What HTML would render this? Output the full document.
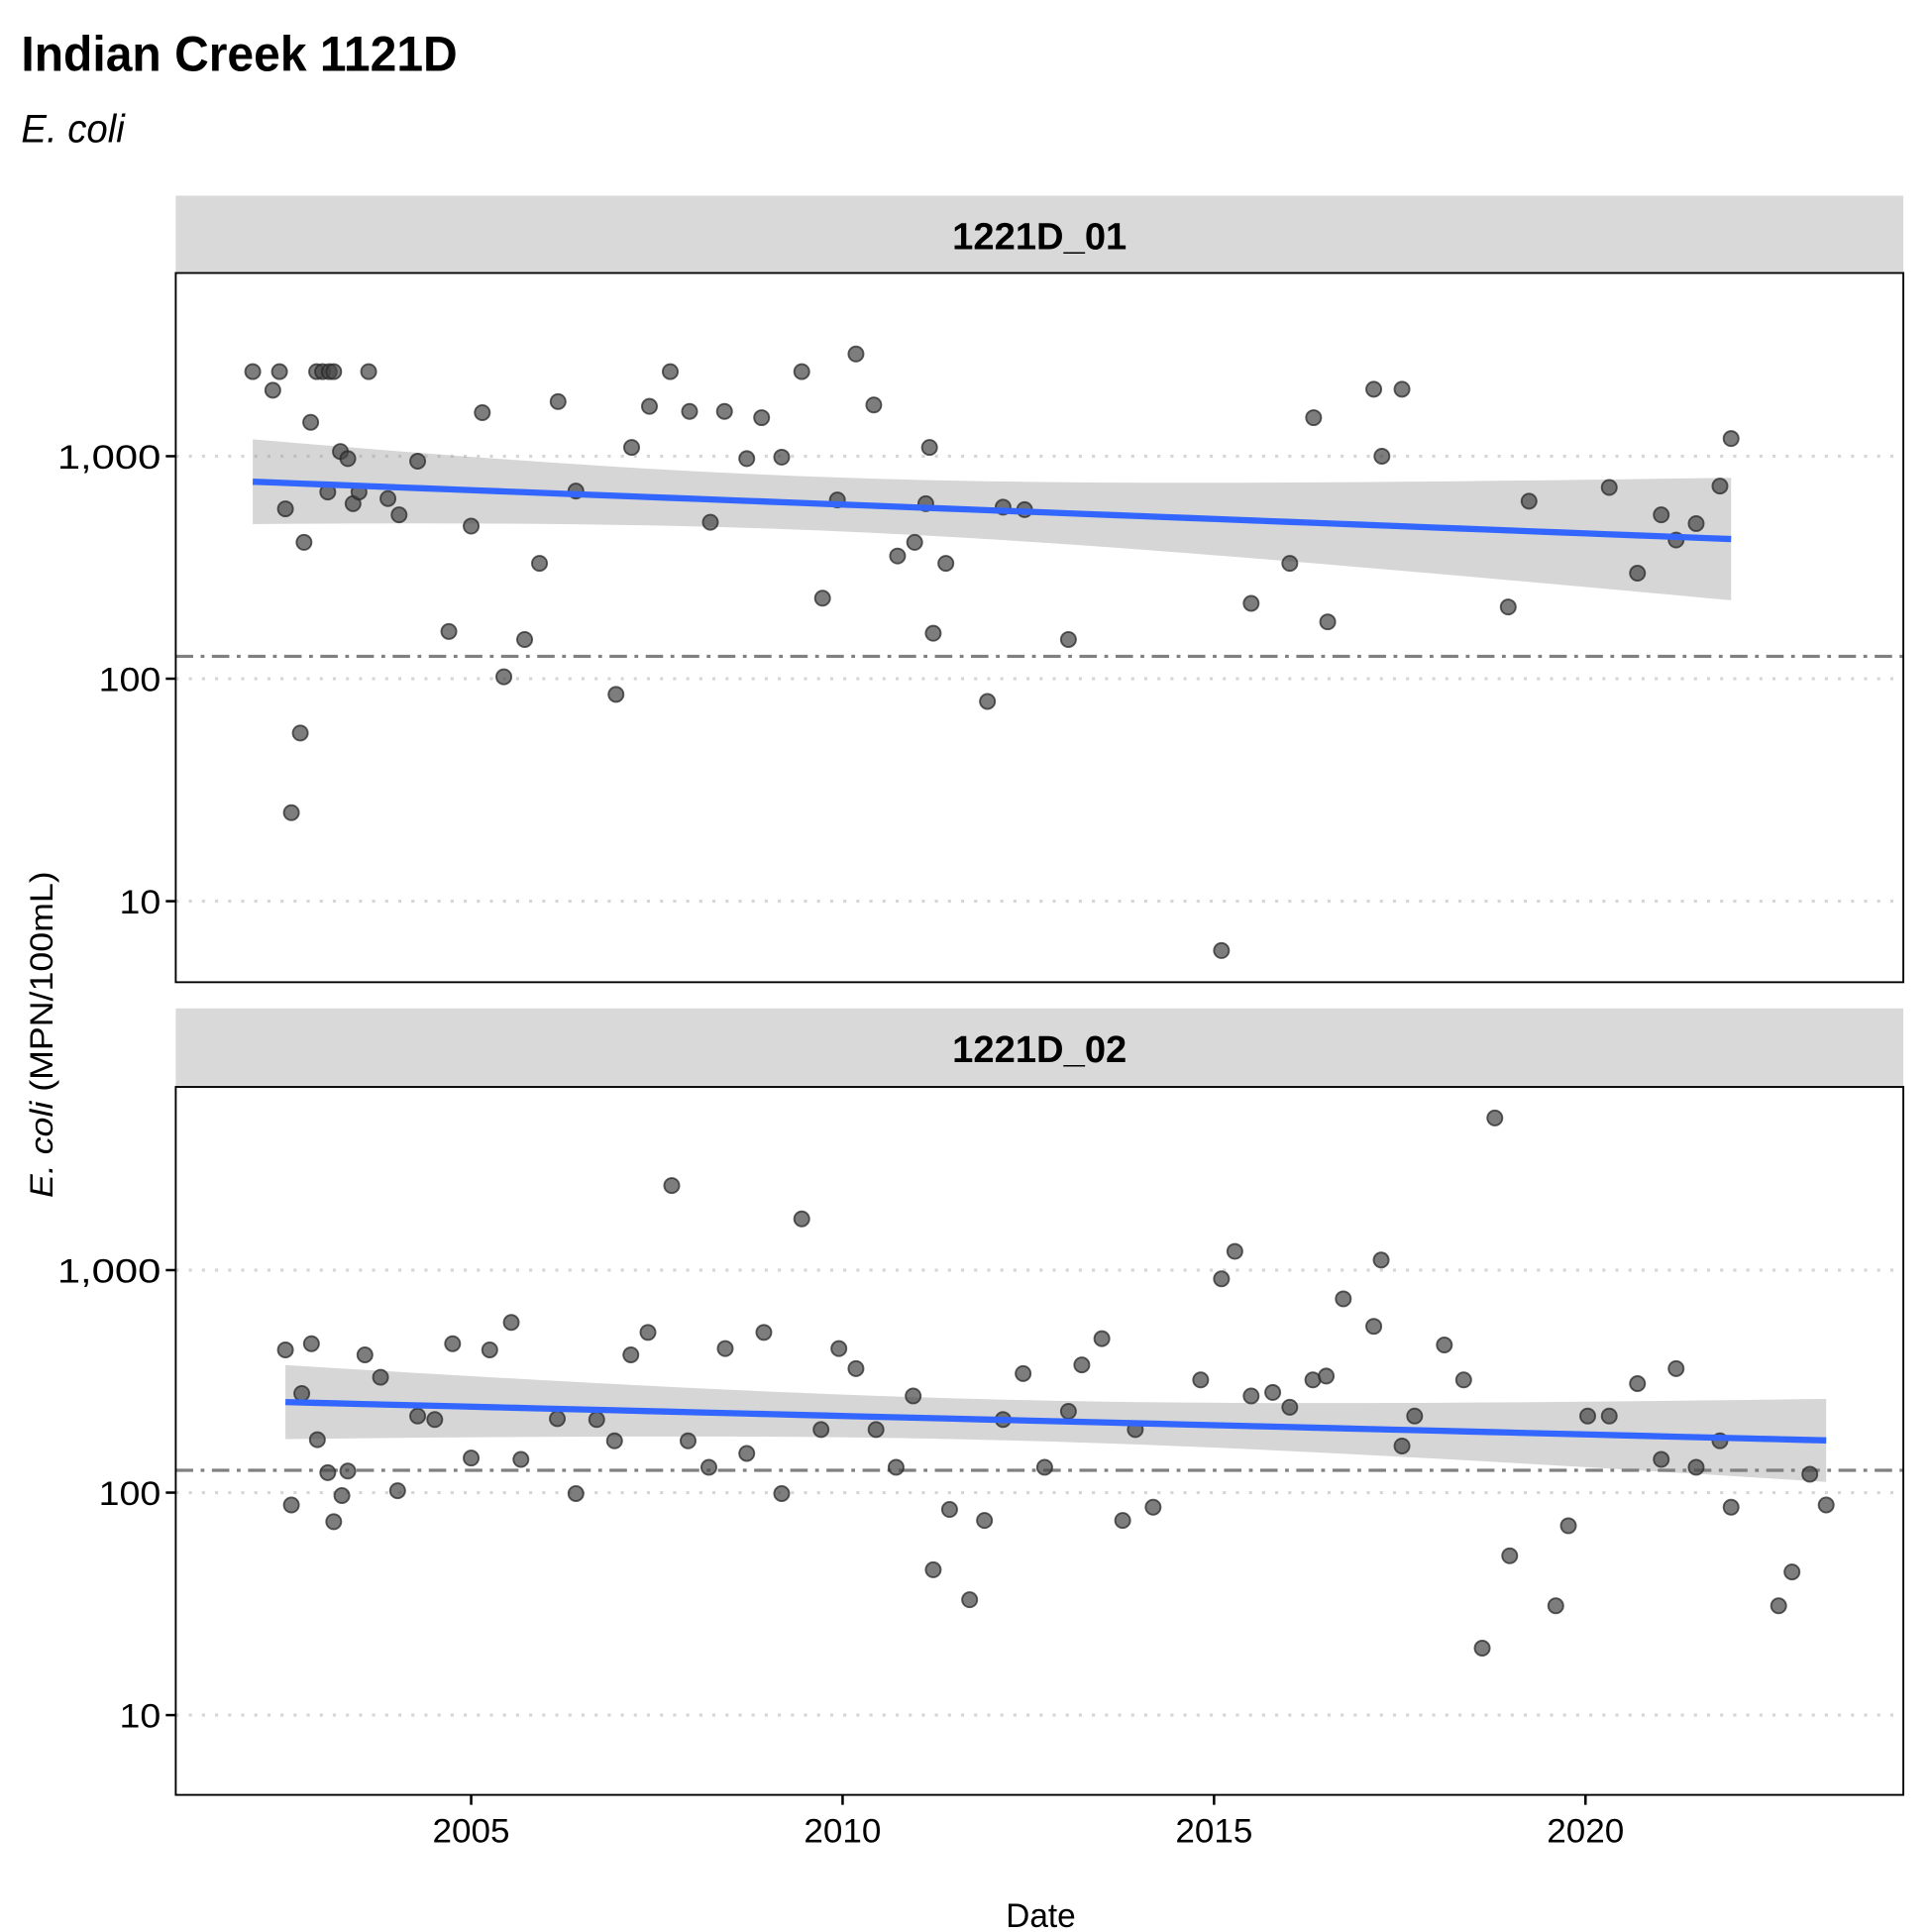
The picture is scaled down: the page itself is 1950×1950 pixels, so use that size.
<!DOCTYPE html>
<html><head><meta charset="utf-8">
<style>
html,body{margin:0;padding:0;background:#fff;}
svg{display:block;}
text{font-family:"Liberation Sans Narrow","Liberation Sans",sans-serif;}
</style></head>
<body>
<svg id="chart" width="1950" height="1950" viewBox="0 0 1550 1550" xmlns="http://www.w3.org/2000/svg">
<rect width="1550" height="1550" fill="#fff"/>
<text x="17" y="57" font-size="40" font-weight="bold" textLength="350" lengthAdjust="spacingAndGlyphs">Indian Creek 1121D</text>
<text x="17" y="114" font-size="32" font-style="italic" textLength="83" lengthAdjust="spacingAndGlyphs">E. coli</text>
<text transform="translate(42,830) rotate(-90)" text-anchor="middle" font-size="26" textLength="262" lengthAdjust="spacingAndGlyphs"><tspan font-style="italic">E. coli</tspan> (MPN/100mL)</text>
<text x="835" y="1546" text-anchor="middle" font-size="27" textLength="56" lengthAdjust="spacingAndGlyphs">Date</text>
<g id="panels"></g>
</svg>
<script>
const p1Years=[2002.06,2002.33,2002.42,2002.50,2002.58,2002.70,2002.75,2002.84,2002.92,2003.0,2003.07,2003.09,2003.15,2003.24,2003.34,2003.41,2003.49,2003.62,2003.88,2004.03,2004.28,2004.70,2005.0,2005.15,2005.44,2005.72,2005.92,2006.17,2006.41,2006.95,2007.16,2007.40,2007.68,2007.94,2008.22,2008.41,2008.71,2008.91,2009.18,2009.45,2009.73,2009.93,2010.18,2010.42,2010.74,2010.97,2011.12,2011.17,2011.22,2011.39,2011.95,2012.16,2012.45,2013.04,2015.10,2015.50,2016.02,2016.34,2016.53,2017.15,2017.26,2017.53,2018.96,2019.24,2020.32,2020.70,2021.02,2021.22,2021.49,2021.81,2021.96];
const p1Values=[2400,1980,2400,580,25,57,410,1420,2400,2400,690,2400,2400,1050,975,612,690,2400,645,545,950,163,485,1570,102,150,330,1760,697,85,1095,1675,2400,1590,505,1590,975,1490,990,2400,230,636,2880,1700,356,410,612,1095,160,330,79,590,575,150,6,218,330,1490,180,2000,1000,2000,210,628,724,298,545,420,498,734,1200];
const p2Years=[2002.50,2002.58,2002.72,2002.85,2002.93,2003.07,2003.15,2003.26,2003.34,2003.57,2003.78,2004.01,2004.28,2004.51,2004.75,2005.0,2005.25,2005.54,2005.67,2006.16,2006.41,2006.69,2006.93,2007.15,2007.38,2007.70,2007.92,2008.20,2008.42,2008.71,2008.94,2009.18,2009.45,2009.71,2009.95,2010.18,2010.45,2010.72,2010.95,2011.22,2011.44,2011.71,2011.91,2012.16,2012.43,2012.72,2013.04,2013.22,2013.49,2013.77,2013.94,2014.18,2014.82,2015.10,2015.28,2015.50,2015.79,2016.02,2016.33,2016.51,2016.74,2017.15,2017.25,2017.53,2017.70,2018.10,2018.36,2018.61,2018.78,2018.98,2019.60,2019.77,2020.03,2020.32,2020.70,2021.02,2021.22,2021.49,2021.81,2021.96,2022.60,2022.78,2023.02,2023.24];
const p2Values=[438,88,279,467,173,123,74,97,125,416,330,102,221,213,467,143,438,582,141,215,99,213,171,416,525,2400,171,130,444,150,525,99,1700,192,444,361,192,130,272,45,84,33,75,213,343,130,232,375,492,75,192,86,321,914,1214,272,282,242,321,334,743,559,1110,162,221,461,321,20,4830,52,31,71,221,221,309,141,361,130,171,86,31,44,121,88];
const panelNames=["1221D_01","1221D_02"];
const xTickYears=[2005,2010,2015,2020];
const yTickValues=[10,100,1000];
const yTickLabels=["10","100","1,000"];
const threshold=126;

const NS="http://www.w3.org/2000/svg";
const root=document.getElementById('panels');
const X0=141,X1=1527;
function xScale(yr){return 378+(yr-2005)*59.6;}
function mk(tag,attrs,parent){const e=document.createElementNS(NS,tag);for(const k in attrs)e.setAttribute(k,attrs[k]);(parent||root).appendChild(e);return e;}

const layouts=[{strip:157,top:219,bot:788,y1000:366},{strip:809,top:872,bot:1440,y1000:1019}];
const datasets=[[p1Years,p1Values],[p2Years,p2Values]];

layouts.forEach((L,pi)=>{
  const yScale=v=>L.y1000-(Math.log10(v)-3)*178.5;
  const g=mk('g',{});
  
  
  const strip=mk('rect',{x:X0,y:L.strip,width:X1-X0,height:L.top-L.strip-1,fill:'#d9d9d9'},g);
  
  
  const st=mk('text',{x:(X0+X1)/2,y:L.strip+43,'text-anchor':'middle','font-size':30,'font-weight':'bold',textLength:140,lengthAdjust:'spacingAndGlyphs'},g);
  st.textContent=panelNames[pi];
  
  
  yTickValues.forEach((v,i)=>{
    const y=yScale(v);
    const gl=mk('line',{x1:X0,x2:X1,y1:y,y2:y,stroke:'#d6d6d6','stroke-width':2.5,'stroke-dasharray':'2.5 8'},g);
    
    
    const tk=mk('line',{x1:X0-8,x2:X0,y1:y,y2:y,stroke:'#000','stroke-width':2},g);
    
    
    const tl=mk('text',{x:X0-12,y:y+10,'text-anchor':'end','font-size':27,textLength:yTickLabels[i].length*16.6,lengthAdjust:'spacingAndGlyphs'},g);
    tl.textContent=yTickLabels[i];
    
    
  });
  const [xs,vs]=datasets[pi];
  const ly=vs.map(v=>Math.log10(v));
  const n=xs.length;
  const mx=xs.reduce((a,b)=>a+b,0)/n, my=ly.reduce((a,b)=>a+b,0)/n;
  let sxx=0,sxy=0;for(let i=0;i<n;i++){sxx+=(xs[i]-mx)**2;sxy+=(xs[i]-mx)*(ly[i]-my);}
  const b=sxy/sxx,a=my-b*mx;
  let sse=0;for(let i=0;i<n;i++)sse+=(ly[i]-a-b*xs[i])**2;
  const s=Math.sqrt(sse/(n-2)),t=1.99;
  const xmin=Math.min(...xs),xmax=Math.max(...xs);
  const up=[],lo=[],mid=[];
  for(let k=0;k<=60;k++){
    const xv=xmin+(xmax-xmin)*k/60;
    const f=a+b*xv, se=s*Math.sqrt(1/n+(xv-mx)**2/sxx);
    up.push([xScale(xv),L.y1000-(f+t*se-3)*178.5]);
    lo.push([xScale(xv),L.y1000-(f-t*se-3)*178.5]);
    mid.push([xScale(xv),L.y1000-(f-3)*178.5]);
  }
  const band=mk('path',{d:'M'+up.map(p=>p.join(',')).join('L')+'L'+lo.reverse().map(p=>p.join(',')).join('L')+'Z',fill:'#999',opacity:0.4},g);
  
  
  const ty=yScale(threshold);
  const th=mk('line',{x1:X0,x2:X1,y1:ty,y2:ty,stroke:'#808080','stroke-width':2.5,'stroke-dasharray':'14 6 3 6'},g);
  
  
  for(let i=0;i<n;i++){
    const c=mk('circle',{cx:xScale(xs[i]),cy:yScale(vs[i]),r:6,fill:'rgba(70,70,70,0.7)',stroke:'rgba(40,40,40,0.75)','stroke-width':1.5},g);
    
    
  }
  const tr=mk('path',{d:'M'+mid.map(p=>p.join(',')).join('L'),fill:'none',stroke:'#3366FF','stroke-width':5},g);
  
  
  const fr=mk('rect',{x:X0,y:L.top,width:X1-X0,height:L.bot-L.top,fill:'none',stroke:'#000','stroke-width':1.5},g);
  
  
  if(pi===1){
    xTickYears.forEach(yr=>{
      const x=xScale(yr);
      const tk=mk('line',{x1:x,x2:x,y1:L.bot,y2:L.bot+8,stroke:'#000','stroke-width':2},g);
      
      
      const tl=mk('text',{x:x,y:L.bot+38,'text-anchor':'middle','font-size':27,textLength:62,lengthAdjust:'spacingAndGlyphs'},g);
      tl.textContent=String(yr);
      
      
    });
  }
});
</script>
</body></html>
